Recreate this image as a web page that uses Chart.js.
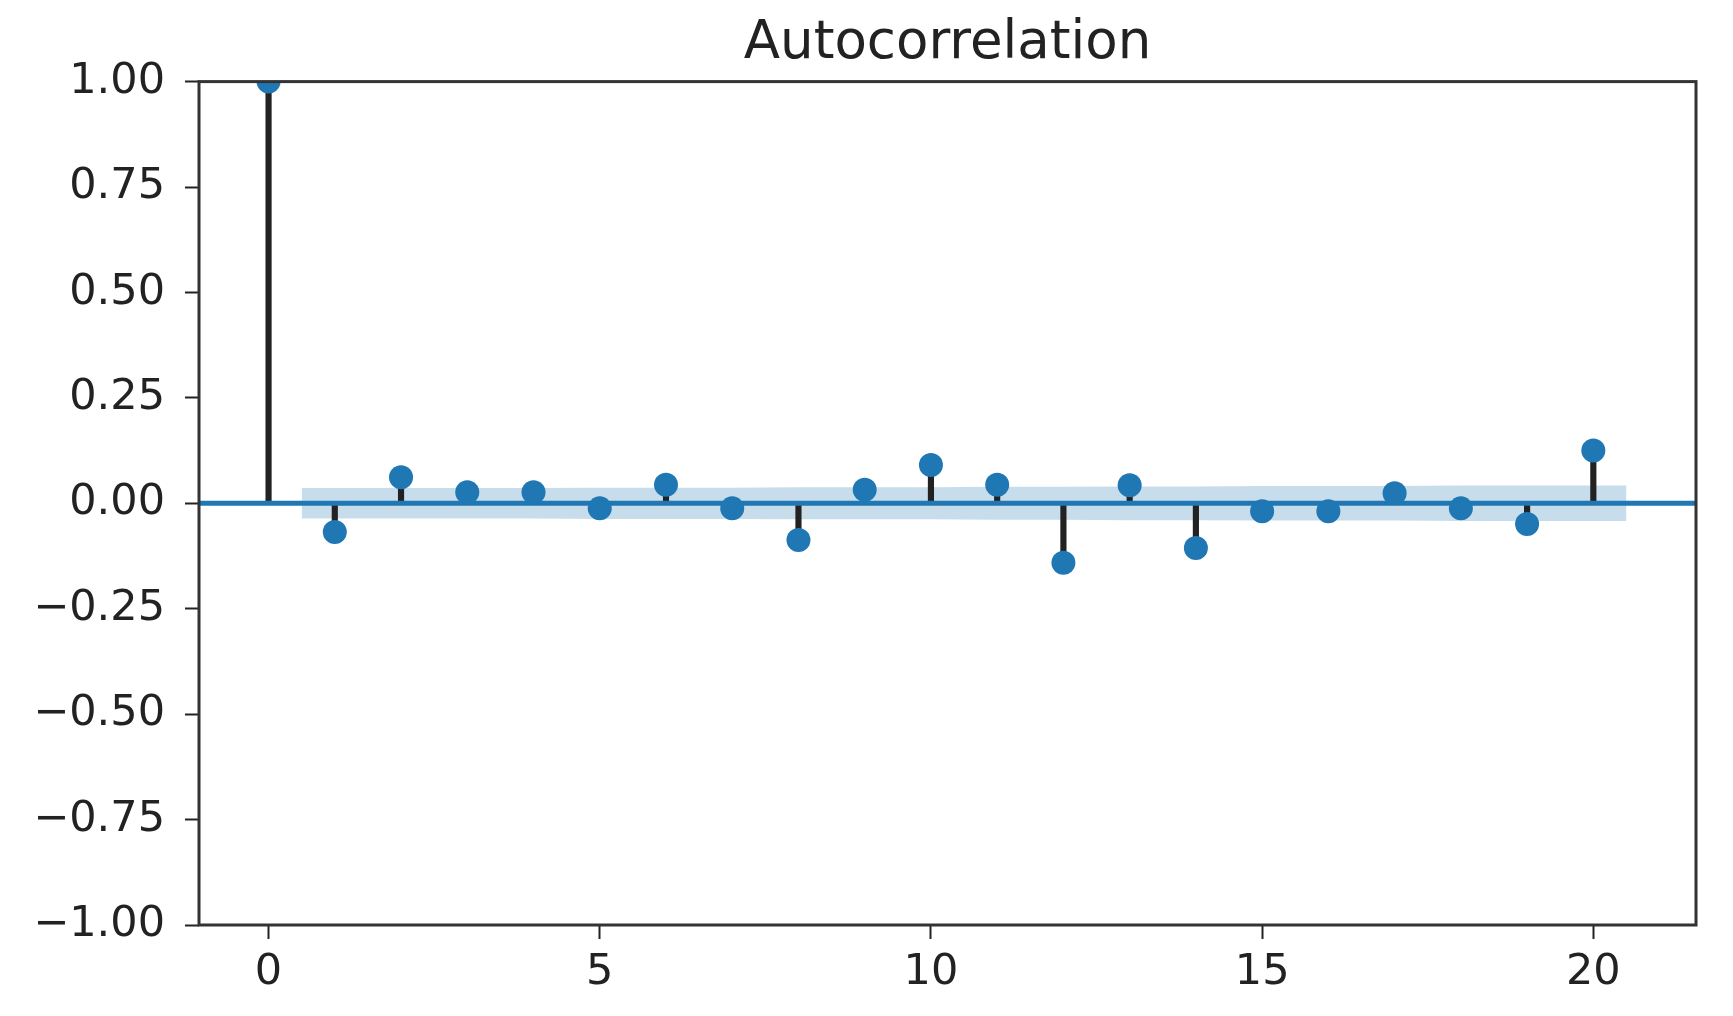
<!DOCTYPE html>
<html>
<head>
<meta charset="utf-8">
<script src="https://cdn.jsdelivr.net/npm/chart.js@4"></script>
<style>
  html, body { margin: 0; padding: 0; background: #fff; }
  #wrap { width: 1733px; height: 1016px; }
</style>
</head>
<body>
<div id="wrap"><canvas id="acf"></canvas></div>
<script>
const lags = [0, 1, 2, 3, 4, 5, 6, 7, 8, 9, 10, 11, 12, 13, 14, 15, 16, 17, 18, 19, 20];
const acfValues = [1.0, -0.068, 0.062, 0.026, 0.026, -0.012, 0.044, -0.012, -0.087, 0.032, 0.091,
                   0.044, -0.141, 0.043, -0.106, -0.019, -0.019, 0.024, -0.012, -0.049, 0.125];
// confidence band (half width) for lags 1..20, first/last x shifted by 0.5 like statsmodels
const bandX = [0.5, 2, 3, 4, 5, 6, 7, 8, 9, 10, 11, 12, 13, 14, 15, 16, 17, 18, 19, 20.5];
const bandHalf = [0.036, 0.036, 0.036, 0.036, 0.037, 0.037, 0.037, 0.038, 0.038, 0.038,
                  0.039, 0.039, 0.040, 0.040, 0.041, 0.041, 0.041, 0.042, 0.042, 0.042];
const xTicks = [0, 5, 10, 15, 20];
const yTicks = [-1, -0.75, -0.5, -0.25, 0, 0.25, 0.5, 0.75, 1];
const xRange = [-1.05, 21.55];

const blue = "#1f77b4";
const fmtY = v => v.toFixed(2).replace("-", "\u2212");

// full rectangle for the axes frame, drawn over the data like matplotlib spines
const frame = {
  id: "frame",
  afterDatasetsDraw(chart) {
    const { ctx, chartArea: a } = chart;
    ctx.save();
    ctx.strokeStyle = "#333";
    ctx.lineWidth = 3;
    ctx.strokeRect(a.left, a.top, a.right - a.left, a.bottom - a.top);
    ctx.restore();
  }
};

new Chart(document.getElementById("acf"), {
  type: "line",
  data: {
    datasets: [
      {
        label: "lower",
        data: bandX.map((x, i) => ({ x: x, y: -bandHalf[i] })),
        borderWidth: 0,
        pointRadius: 0,
        fill: false,
        order: 5
      },
      {
        label: "upper",
        data: bandX.map((x, i) => ({ x: x, y: bandHalf[i] })),
        borderWidth: 0,
        pointRadius: 0,
        backgroundColor: "rgba(31,119,180,0.25)",
        fill: "-1",
        order: 4
      },
      {
        type: "bar",
        label: "stems",
        data: lags.map((l, i) => ({ x: l, y: acfValues[i] })),
        backgroundColor: "#222",
        barThickness: 5.5,
        order: 3
      },
      {
        label: "zero",
        data: xRange.map(x => ({ x: x, y: 0 })),
        borderColor: blue,
        borderWidth: 5,
        pointRadius: 0,
        order: 2
      },
      {
        label: "acf",
        data: lags.map((l, i) => ({ x: l, y: acfValues[i] })),
        showLine: false,
        pointRadius: 12,
        pointBackgroundColor: blue,
        pointBorderWidth: 0,
        clip: 0,
        order: 1
      }
    ]
  },
  options: {
    responsive: true,
    maintainAspectRatio: false,
    animation: false,
    layout: { padding: { left: 0, right: 37, top: 0, bottom: 0 } },
    plugins: {
      legend: { display: false },
      tooltip: { enabled: false },
      title: {
        display: true,
        fullSize: false,
        text: "Autocorrelation",
        color: "#222",
        font: { family: "DejaVu Sans", size: 53, weight: "normal" },
        padding: { top: 12, bottom: 6 }
      }
    },
    scales: {
      x: {
        type: "linear",
        min: xRange[0],
        max: xRange[1],
        offset: false,
        afterBuildTicks: s => { s.ticks = xTicks.map(v => ({ value: v })); },
        afterFit: s => { s.height = 91; },
        border: { display: false },
        grid: { offset: false, drawOnChartArea: false, drawTicks: true, tickLength: 14, tickWidth: 2, tickColor: "#222" },
        ticks: {
          color: "#222",
          padding: 8,
          maxRotation: 0,
          font: { family: "DejaVu Sans", size: 43 },
          callback: v => String(v)
        }
      },
      y: {
        min: -1,
        max: 1,
        afterBuildTicks: s => { s.ticks = yTicks.map(v => ({ value: v })); },
        afterFit: s => { s.width = 199; },
        border: { display: false },
        grid: { drawOnChartArea: false, drawTicks: true, tickLength: 14, tickWidth: 2, tickColor: "#222" },
        ticks: {
          color: "#222",
          padding: 20,
          font: { family: "DejaVu Sans", size: 43 },
          callback: v => fmtY(v)
        }
      }
    }
  },
  plugins: [frame]
});
</script>
</body>
</html>
